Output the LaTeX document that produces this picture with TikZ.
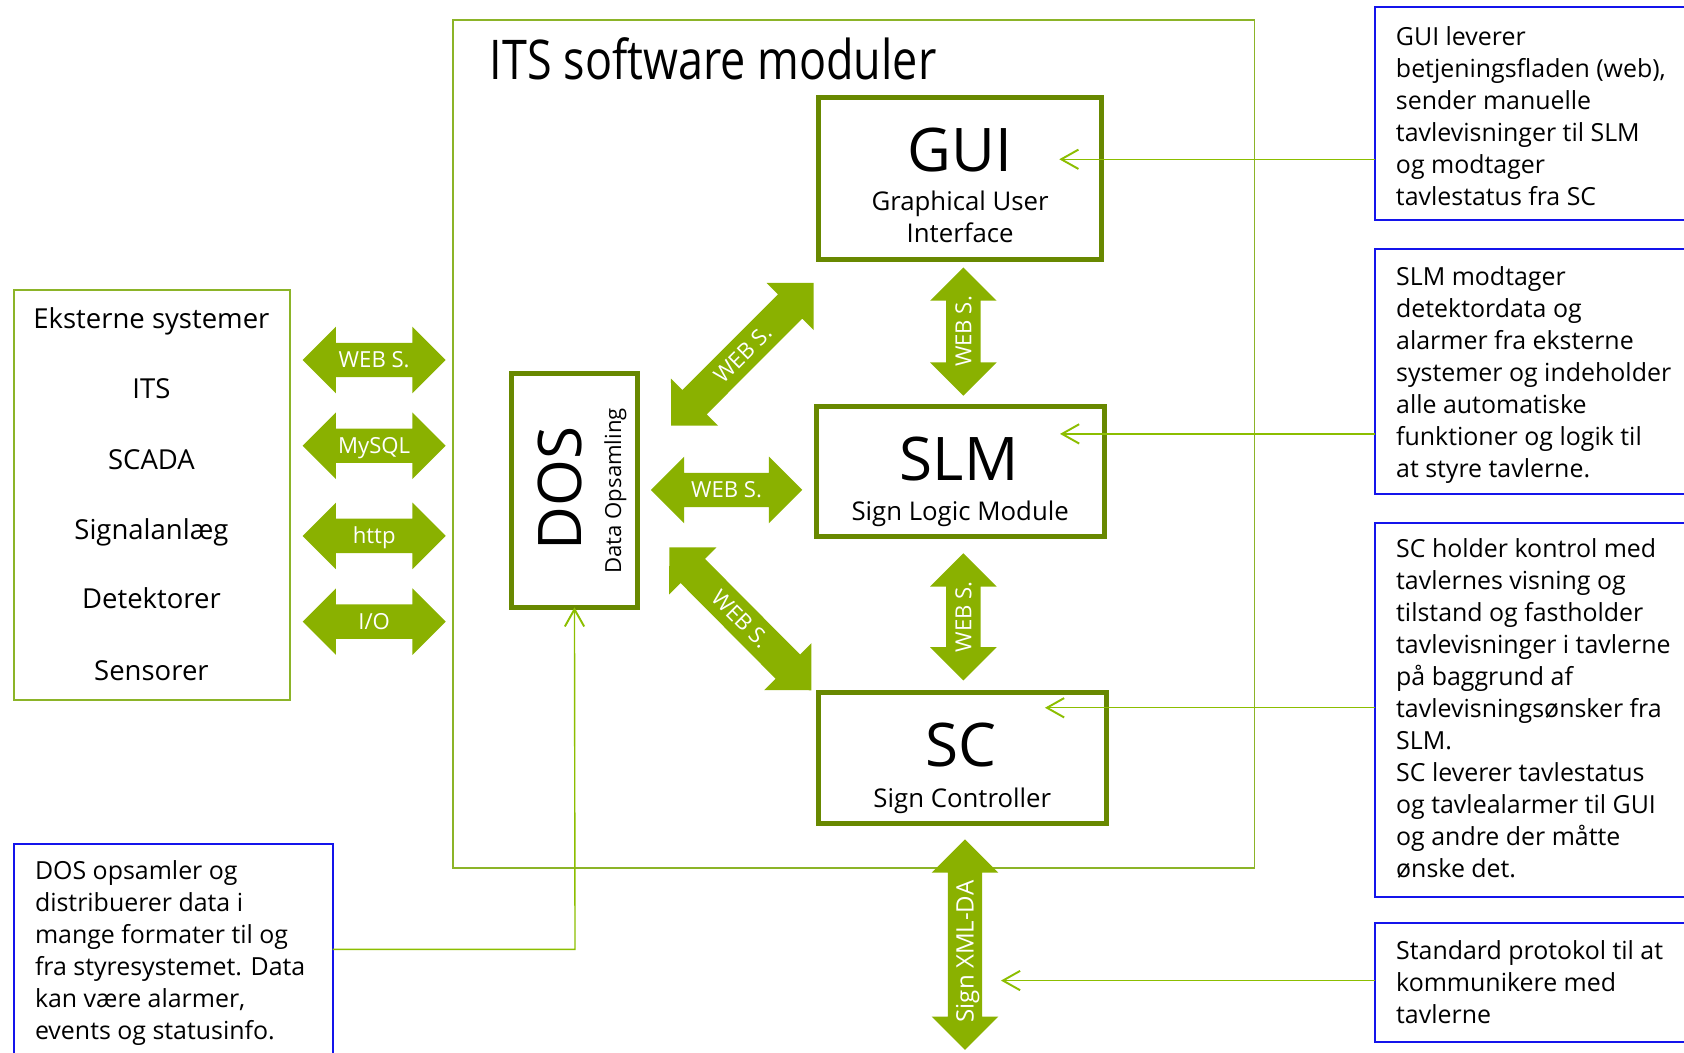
\documentclass[tikz,border=0pt]{standalone}
\usepackage{fontspec}
\setmainfont{Open Sans}
\newfontfamily\titlefont{Open Sans}[FakeStretch=0.82]
\usetikzlibrary{calc,arrows.meta}

\definecolor{arrowgreen}{RGB}{138,177,0}
\definecolor{boxolive}{RGB}{104,136,0}
\definecolor{framegreen}{RGB}{140,180,40}
\definecolor{linegreen}{RGB}{140,190,0}
\definecolor{calloutblue}{RGB}{20,20,235}

\newcommand\fatarrow[2]{%
  \fill[arrowgreen] let \p1=(#1), \p2=(#2),
     \n1={atan2(\y2-\y1,\x2-\x1)}, \n2={veclen(\x2-\x1,\y2-\y1)}, \n3={\n2-15.5pt} in
     [shift={(\p1)}, rotate=\n1]
     (0pt,0pt) -- (15.5pt,15.5pt) -- (15.5pt,8pt) -- (\n3,8pt) -- (\n3,15.5pt)
     -- (\n2,0pt) -- (\n3,-15.5pt) -- (\n3,-8pt) -- (15.5pt,-8pt) -- (15.5pt,-15.5pt) -- cycle;}

\begin{document}
\begin{tikzpicture}[x=0.5pt,y=-0.5pt,
  every node/.style={inner sep=0pt, outer sep=0pt},
  module/.style={draw=boxolive, line width=2.3pt, fill=white},
  frame/.style={draw=framegreen, line width=0.8pt},
  callout/.style={draw=calloutblue, line width=0.9pt},
  conn/.style={draw=linegreen, line width=0.65pt, -{Straight Barb[length=8pt,width=9pt,line width=0.9pt]}},
  arrlbl/.style={text=white, font=\fontsize{10.3}{12}\selectfont, text height=7.35pt, text depth=0pt},
  body/.style={font=\fontsize{12}{15}\selectfont, anchor=base},
  extlist/.style={font=\fontsize{12.8}{15}\selectfont, anchor=base},
  big/.style={font=\fontsize{28}{30}\selectfont, anchor=base},
  calltext/.style={font=\fontsize{11.6}{14.9}\selectfont, anchor=base west}
]
\useasboundingbox (0,0) rectangle (1568,980);

% frames
\node[frame, minimum width=373pt, minimum height=394.95pt] (its) at (795,413.55) {};
\node[anchor=base west, font=\titlefont\fontsize{25.5}{30}\selectfont] (title) at (456.2,74) {ITS software moduler};
\node[frame, minimum width=128.5pt, minimum height=191pt] (ext) at (141.5,461) {};
\node[extlist] (ext0) at (141,306.2) {Eksterne systemer};
\node[extlist] (ext1) at (141,370.9) {ITS};
\node[extlist] (ext2) at (141,437.6) {SCADA};
\node[extlist] (ext3) at (141,502.3) {Signalanlæg};
\node[extlist] (ext4) at (141,567) {Detektorer};
\node[extlist] (ext5) at (141,633.8) {Sensorer};

% modules
\node[module, minimum width=132pt, minimum height=75.25pt] (gui) at (894,166.25) {};
\node[big] (guiT) at (894,159.5) {GUI};
\node[body] (guiS1) at (894,196) {Graphical User};
\node[body] (guiS2) at (894,226) {Interface};

\node[module, minimum width=134pt, minimum height=60.45pt] (slm) at (894,438.95) {};
\node[big] (slmT) at (893,447) {SLM};
\node[body] (slmS) at (894,484.5) {Sign Logic Module};

\node[module, minimum width=134pt, minimum height=60.8pt] (sc) at (896,705.8) {};
\node[big] (scT) at (895,713.5) {SC};
\node[body] (scS) at (896,751.5) {Sign Controller};

\node[module, minimum width=58.5pt, minimum height=108.65pt] (dos) at (534.9,456.85) {};
\node[font=\fontsize{28}{30}\selectfont, text height=20pt, text depth=0pt, rotate=90] (dosT) at (521.9,454.7) {DOS};
\node[font=\fontsize{10.3}{12}\selectfont, text height=7.35pt, text depth=0pt, rotate=90] (dosS) at (571,457) {Data Opsamling};

% fat arrow end points
\coordinate (a1s) at (281.8,335.2); \coordinate (a1e) at (415,335.2);
\coordinate (a2s) at (281.8,415);   \coordinate (a2e) at (415,415);
\coordinate (a3s) at (281.8,499);   \coordinate (a3e) at (415,499);
\coordinate (a4s) at (281.8,578.8); \coordinate (a4e) at (415,578.8);
\coordinate (m1s) at (606,456.2);   \coordinate (m1e) at (747,456.2);
\coordinate (d1s) at (624.8,396.4); \coordinate (d1e) at (758,263);
\coordinate (d2s) at (623.2,509.6); \coordinate (d2e) at (755.8,643.1);
\coordinate (v1s) at (897,249);     \coordinate (v1e) at (897,368.4);
\coordinate (v2s) at (897,515.2);   \coordinate (v2e) at (897,633.5);
\coordinate (x1s) at (898.5,781.5); \coordinate (x1e) at (898.5,977.6);

\fatarrow{a1s}{a1e}\fatarrow{a2s}{a2e}\fatarrow{a3s}{a3e}\fatarrow{a4s}{a4e}
\fatarrow{m1s}{m1e}\fatarrow{d1s}{d1e}\fatarrow{d2s}{d2e}
\fatarrow{v1s}{v1e}\fatarrow{v2s}{v2e}\fatarrow{x1s}{x1e}

\node[arrlbl] (la1) at ($(a1s)!0.5!(a1e)$) {WEB S.};
\node[arrlbl] (la2) at ($(a2s)!0.5!(a2e)$) {MySQL};
\node[arrlbl] (la3) at ($(a3s)!0.5!(a3e)$) {http};
\node[arrlbl] (la4) at ($(a4s)!0.5!(a4e)$) {I/O};
\node[arrlbl] (lm1) at ($(m1s)!0.5!(m1e)$) {WEB S.};
\node[arrlbl, rotate=45] (ld1) at ($(d1s)!0.5!(d1e)$) {WEB S.};
\node[arrlbl, rotate=-45] (ld2) at ($(d2s)!0.5!(d2e)$) {WEB S.};
\node[arrlbl, rotate=90] (lv1) at ($(v1s)!0.5!(v1e)$) {WEB S.};
\node[arrlbl, rotate=90] (lv2) at ($(v2s)!0.5!(v2e)$) {WEB S.};
\node[arrlbl, font=\fontsize{11.2}{13}\selectfont, text height=8pt, rotate=90] (lx1) at (898.5,886) {Sign XML-DA};

% callouts
\node[callout, minimum width=160pt, minimum height=99pt] (c1) at (1440.15,105.8) {};
\node[callout, minimum width=160pt, minimum height=114pt] (c2) at (1440.5,346) {};
\node[callout, minimum width=160pt, minimum height=174pt] (c3) at (1440.5,661) {};
\node[callout, minimum width=160pt, minimum height=55.5pt] (c4) at (1440.5,914.5) {};
\node[callout, minimum width=148.35pt, minimum height=107pt] (c5) at (161.35,892.9) {};

\node[calltext] (t1) at (1299.8,42) {\begin{tabular}[t]{@{}l@{}}GUI leverer\\betjeningsfladen (web),\\sender manuelle\\tavlevisninger til SLM\\og modtager\\tavlestatus fra SC\end{tabular}};
\node[calltext] (t2) at (1300,266) {\begin{tabular}[t]{@{}l@{}}SLM modtager\\detektordata og\\alarmer fra eksterne\\systemer og indeholder\\alle automatiske\\funktioner og logik til\\at styre tavlerne.\end{tabular}};
\node[calltext] (t3) at (1300,519.3) {\begin{tabular}[t]{@{}l@{}}SC holder kontrol med\\tavlernes visning og\\tilstand og fastholder\\tavlevisninger i tavlerne\\på baggrund af\\tavlevisningsønsker fra\\SLM.\\SC leverer tavlestatus\\og tavlealarmer til GUI\\og andre der måtte\\ønske det.\end{tabular}};
\node[calltext] (t4) at (1300,893) {\begin{tabular}[t]{@{}l@{}}Standard protokol til at\\kommunikere med\\tavlerne\end{tabular}};
\node[calltext] (t5) at (32.6,819.3) {\begin{tabular}[t]{@{}l@{}}DOS opsamler og\\distribuerer data i\\mange formater til og\\fra styresystemet. Data\\kan være alarmer,\\events og statusinfo.\end{tabular}};

% connectors
\coordinate (tip1) at (986.3,148.3);
\coordinate (tip2) at (987,404);
\coordinate (tip3) at (973,659);
\coordinate (tip4) at (932,913);
\coordinate (bend5) at (535.4,884);
\draw[conn] (c1.west |- tip1) -- (tip1);
\draw[conn] (c2.west |- tip2) -- (tip2);
\draw[conn] (c3.west |- tip3) -- (tip3);
\draw[conn] (c4.west |- tip4) -- (tip4);
\draw[conn] (c5.east |- bend5) -- (bend5) -- (dos.south);
\end{tikzpicture}
\end{document}
